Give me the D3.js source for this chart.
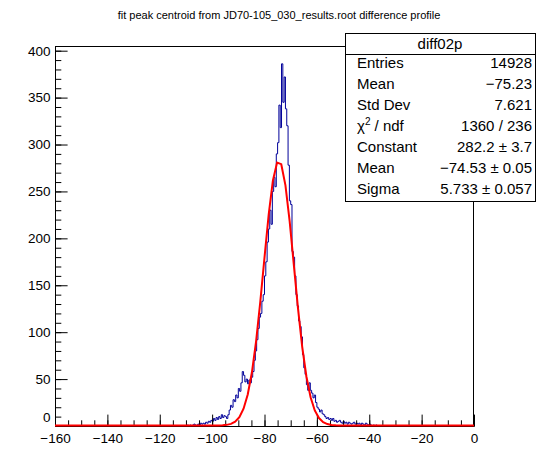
<!DOCTYPE html>
<html>
<head>
<meta charset="utf-8">
<script src="https://cdn.jsdelivr.net/npm/d3@7"></script>
<style>
    body { margin: 0; background: #fff; }
    text { font-family: "Liberation Sans", Arial, Helvetica, sans-serif; fill: #000; }
</style>
</head>
<body>
<div id="chart"></div>
<script>
const chartTitle = "fit peak centroid from JD70-105_030_results.root difference profile";

// histogram: bins of 0.5 starting at -110, empty elsewhere
const firstBinLow = -110;
const binWidth = 0.5;
const counts = [
    0, 1, 0, 1, 0, 1, 2, 1, 0, 2,        // -110 .. -105.5
    1, 3, 2, 3, 2, 4, 3, 5, 4, 6,        // -105 .. -100.5
    5, 8, 6, 9, 7, 10, 8, 12, 9, 11,     // -100 .. -95.5
    10, 8, 12, 17, 22, 20, 28, 26, 33, 30, // -95 .. -90.5
    40, 37, 46, 58, 54, 47, 50, 45, 49, 46, // -90 .. -85.5
    52, 58, 70, 80, 92, 104, 116, 120, 133, 140, // -85 .. -80.5
    160, 175, 196, 210, 230, 215, 250, 265, 255, 290, // -80 .. -75.5
    302, 342, 318, 386, 345, 372, 338, 320, 278, 240, // -75 .. -70.5
    236, 186, 180, 160, 140, 128, 112, 106, 95, 76, // -70 .. -65.5
    62, 55, 44, 38, 46, 38, 35, 30, 33, 25, // -65 .. -60.5
    20, 18, 15, 17, 13, 12, 10, 8, 9, 7,  // -60 .. -55.5
    8, 6, 8, 5, 6, 4, 5, 6, 4, 3,         // -55 .. -50.5
    5, 3, 4, 2, 4, 3, 2, 3, 4, 2,         // -50 .. -45.5
    3, 2, 3, 1, 3, 2, 1, 3, 2, 1,         // -45 .. -40.5
    2, 1, 0, 1, 0, 1, 0                   // -40 .. -37
];

const xTickValues = [-160, -140, -120, -100, -80, -60, -40, -20, 0];
const yTickValues = [0, 50, 100, 150, 200, 250, 300, 350, 400];

// gaussian fit result as printed in the stats box
const fitConstant = 282.2;
const fitMean = -74.53;
const fitSigma = 5.733;

const statsTitle = "diff02p";
const statsLabels = ["Entries", "Mean", "Std Dev", "chi2", "Constant", "Mean", "Sigma"];
const statsValues = ["14928", "\u221275.23", "7.621", "1360 / 236", "282.2 \u00b1 3.7",
    "\u221274.53 \u00b1 0.05", "5.733 \u00b1 0.057"];

const width = 558, height = 474;
const frame = { left: 55, right: 474, top: 46, bottom: 426 };

const svg = d3.select('#chart').append('svg')
    .attr('width', width)
    .attr('height', height);

const x = d3.scaleLinear().domain([-160, 0]).range([frame.left, frame.right]);
const y = d3.scaleLinear().domain([0, 405]).range([frame.bottom, frame.top]);

const minus = v => (v < 0 ? "\u2212" + Math.abs(v) : "" + v);

svg.append('clipPath').attr('id', 'clip')
    .append('rect')
    .attr('x', frame.left).attr('y', frame.top - 1)
    .attr('width', frame.right - frame.left).attr('height', frame.bottom - frame.top + 2);

// title
svg.append('text')
    .attr('x', width / 2)
    .attr('y', 19)
    .attr('text-anchor', 'middle')
    .attr('font-size', '11px')
    .text(chartTitle);

// histogram as a step line
const steps = [[-160, 0], [firstBinLow, 0]];
counts.forEach((c, i) => {
    const lo = firstBinLow + i * binWidth;
    steps.push([lo, c], [lo + binWidth, c]);
});
steps.push([firstBinLow + counts.length * binWidth, 0], [0, 0]);

svg.append('path')
    .datum(steps)
    .attr('clip-path', 'url(#clip)')
    .attr('fill', 'none')
    .attr('stroke', '#000099')
    .attr('stroke-width', 1)
    .attr('d', d3.line().x(d => x(d[0])).y(d => y(d[1])));

// frame
svg.append('rect')
    .attr('x', frame.left + 0.5)
    .attr('y', frame.top + 0.5)
    .attr('width', frame.right - frame.left - 1)
    .attr('height', frame.bottom - frame.top)
    .attr('fill', 'none')
    .attr('stroke', '#000')
    .attr('shape-rendering', 'crispEdges');

// x axis, ticks drawn inward
const xAxisMajor = svg.append('g')
    .attr('transform', `translate(0,${frame.bottom})`)
    .call(d3.axisBottom(x).tickValues(xTickValues).tickSizeInner(-11.4).tickSizeOuter(0)
        .tickPadding(7.5).tickFormat(minus));
svg.append('g')
    .attr('transform', `translate(0,${frame.bottom})`)
    .call(d3.axisBottom(x).tickValues(d3.range(-160, 1, 5)).tickSizeInner(-5.7).tickSizeOuter(0)
        .tickFormat(''));

// y axis
const yAxisMajor = svg.append('g')
    .attr('transform', `translate(${frame.left},0)`)
    .call(d3.axisLeft(y).tickValues(yTickValues).tickSizeInner(-12.6).tickSizeOuter(0)
        .tickPadding(4.5).tickFormat(d => "" + d));
svg.append('g')
    .attr('transform', `translate(${frame.left},0)`)
    .call(d3.axisLeft(y).tickValues(d3.range(0, 401, 10)).tickSizeInner(-6.3).tickSizeOuter(0)
        .tickFormat(''));

svg.selectAll('.tick text').attr('font-size', '13.5px').attr('font-family', null);
svg.selectAll('.domain').attr('stroke', '#000');
svg.selectAll('.tick line').attr('stroke', '#000');
// root lifts the zero label of the y axis off the x axis labels
yAxisMajor.selectAll('.tick text').filter(d => d === 0).attr('dy', '-0.3em');

// fit function, sampled like TF1 with 100 points
const fitPoints = d3.range(0, 101).map(i => {
    const v = -160 + i * 1.6;
    return [v, fitConstant * Math.exp(-0.5 * Math.pow((v - fitMean) / fitSigma, 2))];
});
svg.append('path')
    .datum(fitPoints)
    .attr('clip-path', 'url(#clip)')
    .attr('fill', 'none')
    .attr('stroke', '#ff0000')
    .attr('stroke-width', 2)
    .attr('d', d3.line().x(d => x(d[0])).y(d => y(d[1]) - 0.5));

// stats box
const box = { x: 345, y: 33, w: 190, h: 168, header: 21, row: 21 };
const stats = svg.append('g');
stats.append('rect')
    .attr('x', box.x + 0.5).attr('y', box.y + 0.5)
    .attr('width', box.w).attr('height', box.h)
    .attr('fill', '#fff').attr('stroke', '#000')
    .attr('shape-rendering', 'crispEdges');
stats.append('line')
    .attr('x1', box.x).attr('x2', box.x + box.w)
    .attr('y1', box.y + box.header + 0.5).attr('y2', box.y + box.header + 0.5)
    .attr('stroke', '#000')
    .attr('shape-rendering', 'crispEdges');
stats.append('text')
    .attr('x', box.x + box.w / 2)
    .attr('y', box.y + 16)
    .attr('text-anchor', 'middle')
    .attr('font-size', '15px')
    .text(statsTitle);

statsLabels.forEach((label, i) => {
    const yy = box.y + box.header + 14 + i * box.row;
    const t = stats.append('text')
        .attr('x', box.x + 12)
        .attr('y', yy)
        .attr('font-size', '15px');
    if (label === 'chi2') {
        t.append('tspan').text('\u03c7');
        t.append('tspan').attr('font-size', '10px').attr('dy', '-6').text('2');
        t.append('tspan').attr('dy', '6').text(' / ndf');
    } else {
        t.text(label);
    }
    stats.append('text')
        .attr('x', box.x + box.w - 3)
        .attr('y', yy)
        .attr('text-anchor', 'end')
        .attr('font-size', '15px')
        .text(statsValues[i]);
});
</script>
</body>
</html>
